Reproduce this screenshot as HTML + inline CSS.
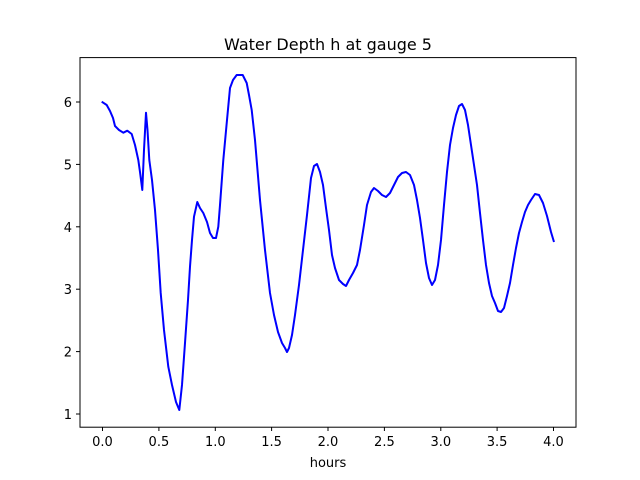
<!DOCTYPE html>
<html><head><meta charset="utf-8"><style>body{margin:0;background:#fff}svg{display:block}</style></head><body>
<svg width="640" height="480" xmlns="http://www.w3.org/2000/svg" font-family="DejaVu Sans, Liberation Sans, sans-serif">
<rect width="640" height="480" fill="#fff"/>
<polyline fill="none" stroke="#0000ff" stroke-width="2" stroke-linejoin="round" points="101.7,101.7 106.7,105 110,111 113,118 115,126 119,130 123.3,132.7 127.3,130.7 131.7,134 135,145 138.3,160 140,172 142.3,190 144,150 146,112.7 147.5,130 149.3,160 152,180 155,210 158,250 160.7,293 164,330 168.3,366.7 172,385 176,402 179.3,410 182,385 185,343 188,300 190,266.7 192,240 194,216.7 197.3,202 200,208 203.3,213 207,222 210,233 213,238 216,238 218.3,226.7 220,205 223.3,160 227,120 230,88 233,80 236.7,75 242.7,75 246.7,83 249,95 251.7,110 255,140 260,200 265,250 270,293 274,315 278,332 282,343 285,348 287,352 289,348 292,335 295,315 299,285 303,250 307,215 311,178 314,166 317,164 320,172 323,185 326,208 329,230 332,255 335,268 339,280 343,284 346,286 349,280 353,273 357,265 360,250 364,225 367,205 371,192 374,188 378,191 382,195 386,197 390,193 394,185 398,177 402,173 406,172 410,175 414,185 417,200 420,218 423,240 426,263 429,278 432,285 435,280 438,265 441,240 444,205 447,172 450,145 453,128 456,115 459,106 462,104 465,110 468,125 471,145 474,165 477,185 480,213 483,240 486,265 489,283 492,296 495,303 498,311 501,312 504,308 507,296 510,283 513,265 516,248 519,233 522,222 525,212 528,205 531,200 535,194 539,195 543,203 547,216 551,232 554,242"/>
<rect x="80" y="57.6" width="496" height="369.6" fill="none" stroke="#000" stroke-width="1"/>
<g stroke="#000" stroke-width="1">
<line x1="102.5" y1="427" x2="102.5" y2="431"/><line x1="158.9" y1="427" x2="158.9" y2="431"/><line x1="215.3" y1="427" x2="215.3" y2="431"/><line x1="271.6" y1="427" x2="271.6" y2="431"/><line x1="328" y1="427" x2="328" y2="431"/><line x1="384.4" y1="427" x2="384.4" y2="431"/><line x1="440.8" y1="427" x2="440.8" y2="431"/><line x1="497.1" y1="427" x2="497.1" y2="431"/><line x1="553.5" y1="427" x2="553.5" y2="431"/>
<line x1="76" y1="414" x2="80" y2="414"/><line x1="76" y1="351.6" x2="80" y2="351.6"/><line x1="76" y1="289.2" x2="80" y2="289.2"/><line x1="76" y1="226.8" x2="80" y2="226.8"/><line x1="76" y1="164.4" x2="80" y2="164.4"/><line x1="76" y1="102" x2="80" y2="102"/>
</g>
<g font-size="13" text-anchor="middle" fill="#000">
<text x="102.5" y="446">0.0</text><text x="158.9" y="446">0.5</text><text x="215.3" y="446">1.0</text><text x="271.6" y="446">1.5</text><text x="328" y="446">2.0</text><text x="384.4" y="446">2.5</text><text x="440.8" y="446">3.0</text><text x="497.1" y="446">3.5</text><text x="553.5" y="446">4.0</text>
<text x="328" y="467">hours</text>
<text x="328" y="50" font-size="16">Water Depth h at gauge 5</text>
</g>
<g font-size="13" text-anchor="end" fill="#000">
<text x="72" y="419">1</text><text x="72" y="356.6">2</text><text x="72" y="294.2">3</text><text x="72" y="231.8">4</text><text x="72" y="169.4">5</text><text x="72" y="107">6</text>
</g>
</svg>
</body></html>
